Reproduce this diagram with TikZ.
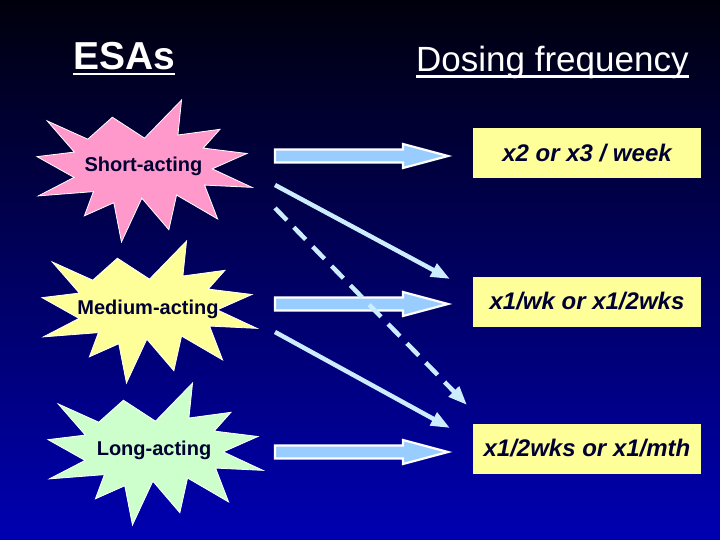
\documentclass[tikz,border=0pt]{standalone}
\usepackage{fontspec}
\setmainfont{Liberation Sans}
\usetikzlibrary{arrows.meta,calc}

\definecolor{slidetop}{RGB}{0,0,12}
\definecolor{slidebottom}{RGB}{0,0,178}
\definecolor{starpink}{RGB}{255,153,204}
\definecolor{staryellow}{RGB}{255,255,153}
\definecolor{stargreen}{RGB}{204,255,204}
\definecolor{boxyellow}{RGB}{255,255,153}
\definecolor{arrowblue}{RGB}{153,204,255}
\definecolor{linkblue}{RGB}{204,236,255}
\definecolor{inkblue}{RGB}{0,0,51}

% explosion outline, drawn in a 216 x 216 box
\newcommand{\explosion}[3]{%
  \begin{scope}[shift={(#1,#2)}, xscale=0.9954, yscale=0.6574]
    \draw[fill=#3, draw=white, line width=0.8pt]
      (108,58) -- (145.22,0) -- (141.55,53.25) -- (183.80,44.57) -- (167.02,73.15)
      -- (210.97,81.37) -- (176.07,104.75) -- (216,132.90) -- (168.37,129.42)
      -- (181.45,180.95) -- (140.20,144.57) -- (132.47,197.37) -- (105.32,149.35)
      -- (84.85,216) -- (77.15,156.27) -- (47.62,176.17) -- (56.67,139.37)
      -- (1.35,145.87) -- (37.22,117.75) -- (0,86.15) -- (37.52,79.20)
      -- (10.22,31.78) -- (51,59.60) -- (75.75,26.17) -- cycle;
  \end{scope}}

\tikzset{
  startext/.style={text=inkblue, font=\fontsize{20}{24}\selectfont\bfseries, inner sep=0pt},
  dosebox/.style={fill=boxyellow, minimum width=228pt, minimum height=50pt, inner sep=0pt,
    text=inkblue, font=\fontsize{24}{28}\selectfont\bfseries\itshape},
  heading/.style={anchor=base west, inner sep=0pt, text=white},
  underline/.style={white, line width=2.8pt},
  blockarrow/.style={draw=white, line width=2.2pt, fill=arrowblue,
    to path={let \p1=(\tikztostart), \p2=(\tikztotarget) in
      (\x1,\y1+6.5pt) -- (\x2-45pt,\y1+6.5pt) -- (\x2-45pt,\y1+12pt) -- (\x2,\y1)
      -- (\x2-45pt,\y1-12pt) -- (\x2-45pt,\y1-6.5pt) -- (\x1,\y1-6.5pt) -- cycle}},
  link/.style={linkblue, line width=4.5pt, -{Triangle[length=19pt,width=14pt]}},
}

\begin{document}
\begin{tikzpicture}[x=1pt, y=-1pt]
	\useasboundingbox (0,0) rectangle (720,540);
	\shade[top color=slidetop, bottom color=slidebottom] (0,0) rectangle (720,540);

	% headings
	\node[heading, font=\fontsize{39}{46}\selectfont\bfseries] (esas) at (73,69.5) {ESAs};
	\node[heading, font=\fontsize{35}{42}\selectfont] (dosing) at (416,72) {Dosing frequency};
	\draw[underline] ([yshift=-4.5pt]esas.base west) -- ([yshift=-4.5pt]esas.base east);
	\draw[underline] ([yshift=-4.5pt]dosing.base west) -- ([yshift=-4.5pt]dosing.base east);

	% the three ESAs
	\explosion{37}{100}{starpink}
	\explosion{42}{241}{staryellow}
	\explosion{48}{383}{stargreen}
	\node[startext] (short) at (143.5,166) {Short-acting};
	\node[startext] (medium) at (148,309) {Medium-acting};
	\node[startext] (long) at (154,450) {Long-acting};

	% dosing boxes
	\node[dosebox] (week) at (587,153) {x2 or x3 / week};
	\node[dosebox] (twoweek) at (587,301.5) {x1/wk or x1/2wks};
	\node[dosebox] (month) at (587,448.5) {x1/2wks or x1/mth};

	% arrow ends
	\coordinate (a1) at (275,156);   \coordinate (b1) at (448,156);
	\coordinate (a2) at (275,304);   \coordinate (b2) at (448,304);
	\coordinate (a3) at (275,452);   \coordinate (b3) at (448,452);
	\coordinate (c1) at (275,185);   \coordinate (d1) at (450,279);
	\coordinate (c2) at (275,332);   \coordinate (d2) at (450,428);
	\coordinate (c3) at (275,208);   \coordinate (d3) at (467,405);

	\draw[blockarrow] (a1) to (b1);
	\draw[blockarrow] (a2) to (b2);
	\draw[blockarrow] (a3) to (b3);
	\draw[link] (c1) -- (d1);
	\draw[link] (c2) -- (d2);
	\draw[link, dash pattern=on 17pt off 10pt] (c3) -- (d3);
\end{tikzpicture}
\end{document}
